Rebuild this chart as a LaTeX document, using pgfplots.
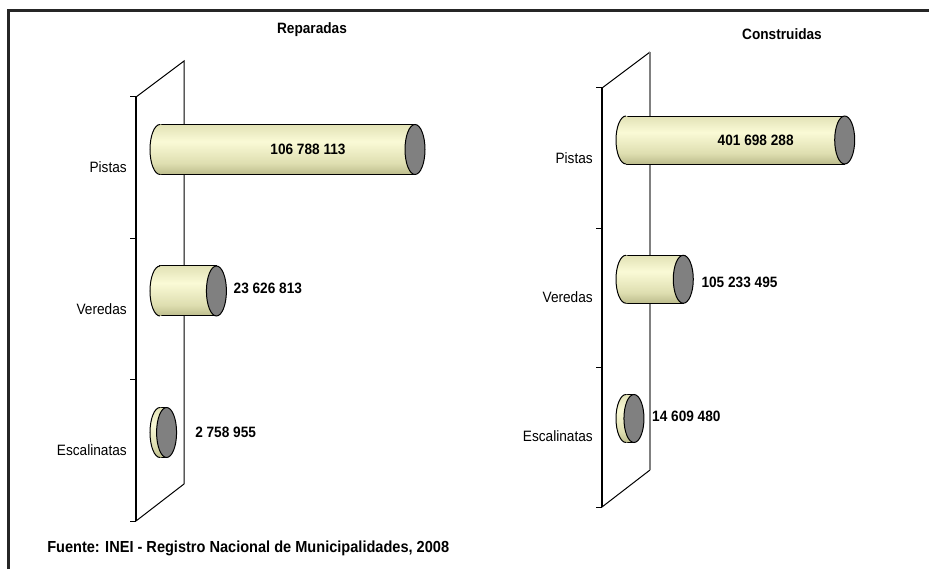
\documentclass[border=0pt]{standalone}
\usepackage{pgfplots}
\pgfplotsset{compat=1.18}
\usepackage{fontspec}
\setmainfont{Liberation Sans}[FakeStretch=0.91]

\definecolor{ctop}{RGB}{226,226,182}
\definecolor{cmid}{RGB}{250,250,214}
\definecolor{cmb}{RGB}{222,222,176}
\definecolor{cbot}{RGB}{188,188,140}
\definecolor{capgray}{RGB}{128,128,128}

\pgfdeclareverticalshading{cylsh}{100bp}{color(0bp)=(cbot); color(25bp)=(cbot); color(36bp)=(cmb); color(58bp)=(cmid); color(75bp)=(ctop); color(100bp)=(ctop)}

\def\cylh{18.75pt}
\def\cylbw{37.5pt}
\def\cylw{7.5pt}

% left end of a cylinder: shaded half ellipse, only the curve stroked
\pgfdeclareplotmark{capL}{%
  \pgfpathmoveto{\pgfqpoint{0pt}{\cylh}}%
  \pgfpatharc{90}{270}{\cylw and \cylh}%
  \pgfpathlineto{\pgfqpoint{1pt}{-\cylh}}%
  \pgfpathlineto{\pgfqpoint{1pt}{\cylh}}%
  \pgfpathclose
  \pgfshadepath{cylsh}{0}%
  \pgfusepath{discard}%
  \pgfpathmoveto{\pgfqpoint{0pt}{\cylh}}%
  \pgfpatharc{90}{270}{\cylw and \cylh}%
  \pgfusepathqstroke}

% right end: grey ellipse
\pgfdeclareplotmark{capR}{%
  \pgfpathellipse{\pgfpointorigin}{\pgfqpoint{\cylw}{0pt}}{\pgfqpoint{0pt}{\cylh}}%
  \pgfusepathqfillstroke}

\newcommand\lbl{\fontsize{11.25pt}{13pt}\selectfont}
\newcommand\num{\fontsize{11.25pt}{13pt}\selectfont\bfseries}

\pgfplotsset{
  cylpanel/.style={
    scale only axis, width=210pt, anchor=origin,
    xmin=0, ymin=-0.5, ymax=2.5, clip=false,
    axis line style={draw=none}, tick style={draw=none}, major tick length=0pt,
    xtick=\empty, ytick={0,1,2}, yticklabels={Escalinatas,Veredas,Pistas},
    yticklabel style={anchor=east, inner sep=0pt, xshift=-24.75pt, yshift=-13.5pt, font=\lbl},
  },
  body/.style={xbar, bar width=\cylbw, draw=black, line width=0.75pt, shade, shading=cylsh, mark=none},
  lcap/.style={only marks, mark=capL, mark options={draw=black, line width=0.75pt}},
  rcap/.style={only marks, mark=capR, mark options={draw=black, fill=capgray, line width=0.75pt}},
}

\begin{document}
\begin{tikzpicture}[x=0.75pt, y=0.75pt]
\useasboundingbox (0,0) rectangle (929,569);

% outer frame (top and left only)
\draw[line width=2.25pt, black!85] (8,0) -- (8,558) -- (929,558);

% left wall
\draw[line width=0.75pt] (136,48) -- (184,85) -- (184,508) -- (136,472);
\draw[line width=1.5pt] (136,48) -- (136,472);
\foreach \yy in {472,331,190,48} \draw[line width=0.75pt] (130,\yy) -- (136,\yy);

% right wall
\draw[line width=0.75pt] (602,62) -- (650,99);
\draw[line width=0.75pt] (602,481) -- (650,517);
\draw[line width=1pt, black!50] (650,99) -- (650,517);
\draw[line width=1.5pt] (602,62) -- (602,481);
\foreach \yy in {481,341,202,62} \draw[line width=0.75pt] (596,\yy) -- (602,\yy);

% Reparadas
\begin{axis}[cylpanel, height=318.4pt, xmax=117257560, at={(120pt,102.375pt)}]
  \addplot[body] coordinates {(2758955,0)};
  \addplot[body] coordinates {(23626813,1)};
  \addplot[body] coordinates {(106788113,2)};
  \addplot[lcap] coordinates {(0,0) (0,1) (0,2)};
  \addplot[rcap] coordinates {(2758955,0) (23626813,1) (106788113,2)};
  \node[inner sep=0pt, font=\num, xshift=-80.25pt] at (axis cs:106788113,2) {106 788 113};
  \node[anchor=west, inner sep=0pt, font=\num, xshift=12.75pt, yshift=2.25pt] at (axis cs:23626813,1) {23 626 813};
  \node[anchor=west, inner sep=0pt, font=\num, xshift=21.3pt] at (axis cs:2758955,0) {2 758 955};
\end{axis}

% Construidas
\def\cylh{18pt}
\def\cylbw{36pt}
\begin{axis}[cylpanel, height=313.3pt, xmax=514291400, at={(469.5pt,112.875pt)}]
  \addplot[body] coordinates {(14609480,0)};
  \addplot[body] coordinates {(105233495,1)};
  \addplot[body] coordinates {(401698288,2)};
  \addplot[lcap] coordinates {(0,0) (0,1) (0,2)};
  \addplot[rcap] coordinates {(14609480,0) (105233495,1) (401698288,2)};
  \node[inner sep=0pt, font=\num, xshift=-66.75pt] at (axis cs:401698288,2) {401 698 288};
  \node[anchor=west, inner sep=0pt, font=\num, xshift=13.5pt, yshift=-2.25pt] at (axis cs:105233495,1) {105 233 495};
  \node[anchor=west, inner sep=0pt, font=\num, xshift=13.5pt, yshift=1.9pt] at (axis cs:14609480,0) {14 609 480};
\end{axis}

\node[font=\num] at (312,539) {Reparadas};
\node[font=\num] at (782,535) {Construidas};
\node[anchor=west, inner sep=0pt, font=\fontsize{12pt}{14pt}\selectfont\bfseries] at (47,21) {Fuente: INEI - Registro Nacional de Municipalidades, 2008};
\end{tikzpicture}
\end{document}
